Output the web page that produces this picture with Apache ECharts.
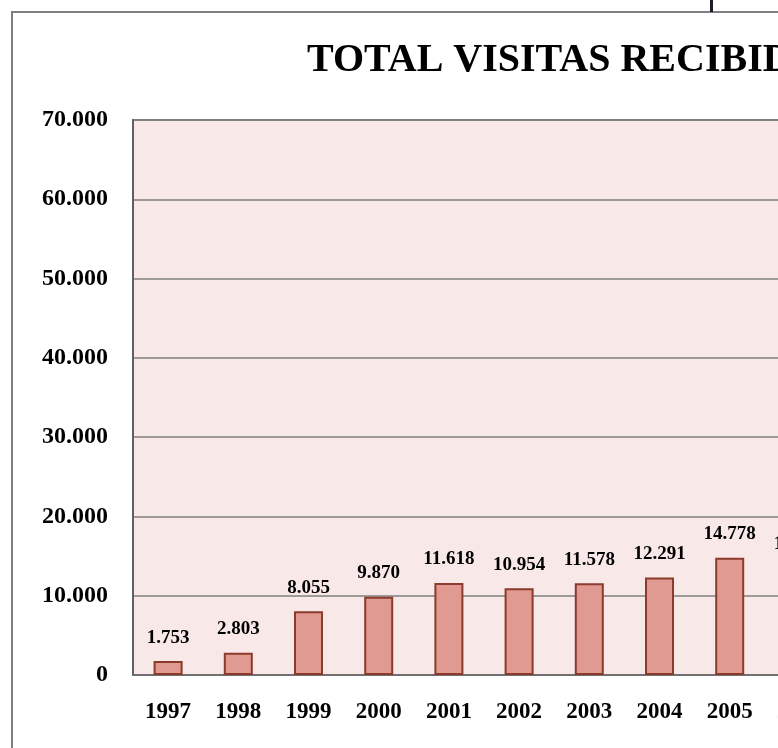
<!DOCTYPE html>
<html>
<head>
<meta charset="utf-8">
<script src="https://cdn.jsdelivr.net/npm/echarts@6/dist/echarts.min.js"></script>
<style>
  html, body { margin: 0; padding: 0; overflow: hidden; background: #fff; }
  .chart { width: 1100px; height: 748px; }
</style>
</head>
<body>
<div class="chart" id="chart"></div>
<script>
const years = ['1997', '1998', '1999', '2000', '2001', '2002', '2003', '2004', '2005', '2006'];
const visitas = [1753, 2803, 8055, 9870, 11618, 10954, 11578, 12291, 14778, 13520];
const yTicks = [0, 10000, 20000, 30000, 40000, 50000, 60000, 70000];

const fmt = (v) => String(v).replace(/\B(?=(\d{3})+(?!\d))/g, '.');
const serif = 'Liberation Serif';

const chart = echarts.init(document.getElementById('chart'));
chart.setOption({
  animation: false,
  backgroundColor: '#fff',
  title: {
    text: 'TOTAL VISITAS RECIBIDAS',
    left: 302,
    top: 36,
    textStyle: {
      fontFamily: serif,
      fontWeight: 'bold',
      fontSize: 40,
      color: '#000'
    }
  },
  graphic: [
    {
      type: 'rect',
      shape: { x: 12, y: 12, width: 1200, height: 1000 },
      style: { fill: 'none', stroke: '#7f7f7f', lineWidth: 2 },
      silent: true
    },
    {
      type: 'rect',
      shape: { x: 710, y: 0, width: 3, height: 12 },
      style: { fill: '#1e1e2a' },
      silent: true
    }
  ],
  grid: {
    left: 133,
    top: 120,
    width: 702,
    height: 555,
    show: true,
    backgroundColor: '#f8e8e7',
    borderColor: '#808080',
    borderWidth: 2
  },
  xAxis: {
    type: 'category',
    data: years,
    axisTick: { show: false },
    axisLine: { lineStyle: { color: '#707070', width: 2 } },
    axisLabel: {
      margin: 26,
      color: '#000',
      fontFamily: serif,
      fontWeight: 'bold',
      fontSize: 23
    }
  },
  yAxis: {
    type: 'value',
    min: yTicks[0],
    max: yTicks[yTicks.length - 1],
    interval: 10000,
    axisLine: { show: true, lineStyle: { color: '#606060', width: 2 } },
    axisTick: { show: false },
    axisLabel: {
      margin: 25,
      color: '#000',
      fontFamily: serif,
      fontWeight: 'bold',
      fontSize: 24,
      formatter: (v) => fmt(v)
    },
    splitLine: { lineStyle: { color: '#808080', width: 1.5 } }
  },
  series: [{
    type: 'bar',
    data: visitas,
    barWidth: 29,
    itemStyle: {
      color: '#e09a92',
      borderColor: '#8b3a2c',
      borderWidth: 2
    },
    label: {
      show: true,
      position: 'top',
      distance: 14,
      color: '#000',
      fontFamily: serif,
      fontWeight: 'bold',
      fontSize: 19,
      formatter: (p) => fmt(p.value)
    }
  }]
});
</script>
</body>
</html>
